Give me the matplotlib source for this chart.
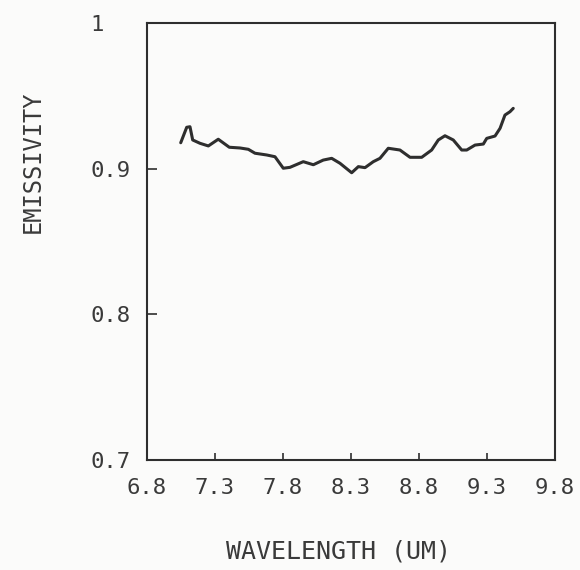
import matplotlib
matplotlib.use("Agg")
import matplotlib.pyplot as plt
from matplotlib.transforms import ScaledTranslation

wavelength = [7.048, 7.092, 7.116, 7.136, 7.190, 7.251, 7.324, 7.405, 7.484, 7.545,
              7.594, 7.680, 7.741, 7.802, 7.851, 7.949, 8.023, 8.096, 8.158, 8.219,
              8.305, 8.354, 8.403, 8.464, 8.513, 8.574, 8.660, 8.734, 8.820, 8.893,
              8.942, 8.991, 9.052, 9.114, 9.151, 9.212, 9.273, 9.298, 9.359, 9.396,
              9.432, 9.469, 9.493]
emissivity = [0.9178, 0.9284, 0.9288, 0.9197, 0.9174, 0.9156, 0.9202, 0.9147, 0.9142, 0.9133,
              0.9106, 0.9094, 0.9082, 0.9003, 0.9009, 0.9048, 0.9027, 0.9059, 0.9071, 0.9037,
              0.8972, 0.9014, 0.9007, 0.9048, 0.9071, 0.9140, 0.9128, 0.9078, 0.9078, 0.9128,
              0.9197, 0.9226, 0.9197, 0.9128, 0.9128, 0.9162, 0.9169, 0.9208, 0.9224, 0.9277,
              0.9368, 0.9391, 0.9414]

x_ticks = [6.8, 7.3, 7.8, 8.3, 8.8, 9.3, 9.8]
x_tick_labels = ["6.8", "7.3", "7.8", "8.3", "8.8", "9.3", "9.8"]
y_ticks = [0.7, 0.8, 0.9, 1.0]
y_tick_labels = ["0.7", "0.8", "0.9", "1"]

ink = "#2e2e2e"
text_col = "#3a3a3a"
mono = ["DejaVu Sans Mono"]

fig = plt.figure(figsize=(5.8, 5.7), dpi=100, facecolor="#fbfbfa")
ax = fig.add_axes([147/580, 1-460/570, 408/580, 437/570])
ax.set_facecolor("#fbfbfa")

ax.plot(wavelength, emissivity, color=ink, linewidth=2.2, solid_capstyle="round",
        solid_joinstyle="round")

ax.set_xlim(6.8, 9.8)
ax.set_ylim(0.7, 1.0)
ax.set_xticks(x_ticks)
ax.set_xticklabels(x_tick_labels, fontfamily=mono, fontsize=16, color=text_col)
ax.set_yticks(y_ticks)
ax.set_yticklabels(y_tick_labels, fontfamily=mono, fontsize=16, color=text_col)
ax.tick_params(axis="x", direction="in", length=5, width=1.2, color=ink, pad=13)
ax.tick_params(axis="y", direction="in", length=7, width=1.2, color=ink, pad=12)
for s in ax.spines.values():
    s.set_color(ink)
    s.set_linewidth(1.5)

# shift the "1" label left as in the original
lbl = ax.get_yticklabels()[-1]
lbl.set_transform(lbl.get_transform() + ScaledTranslation(-0.27, 0, fig.dpi_scale_trans))

fig.text(33/580, 1-162/570, "EMISSIVITY", rotation=90, ha="center", va="center",
         fontfamily=mono, fontsize=17, color=text_col)
fig.text(338/580, 1-552/570, "WAVELENGTH (UM)", ha="center", va="center",
         fontfamily=mono, fontsize=18, color=text_col)

fig.savefig("out.png", dpi=100, facecolor=fig.get_facecolor())
